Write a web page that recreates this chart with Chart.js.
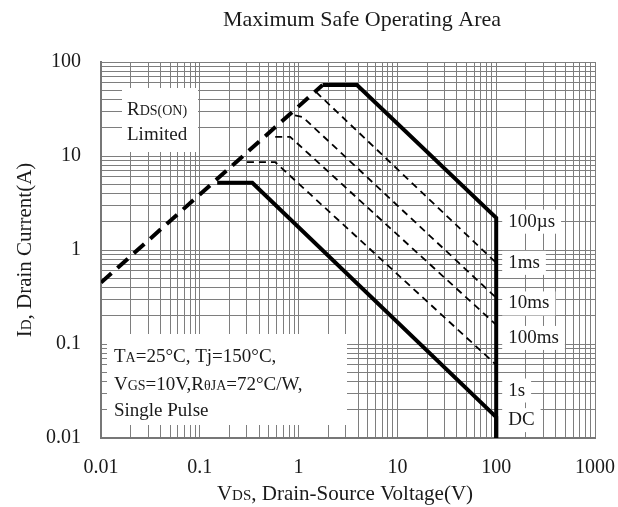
<!DOCTYPE html>
<html>
<head>
<meta charset="utf-8">
<script src="https://cdn.jsdelivr.net/npm/chart.js@4.4.1/dist/chart.umd.min.js"></script>
<style>
  html, body { margin: 0; padding: 0; background: #fff; }
  #wrap { width: 618px; height: 507px; }
</style>
</head>
<body>
<div id="wrap"><canvas id="soa" width="618" height="507"></canvas></div>
<script>
// ticks de los ejes (escala log)
const xTickValues = [0.01, 0.1, 1, 10, 100, 1000];
const xTickLabels = ["0.01", "0.1", "1", "10", "100", "1000"];
const yTickValues = [0.01, 0.1, 1, 10, 100];
const yTickLabels = ["0.01", "0.1", "1", "10", "100"];

// curvas (V, A)
const rdsX = [0.01, 1.75];
const rdsY = [0.45, 57];
const us100X = [1.75, 3.9, 100, 100];
const us100Y = [57, 57, 2.2, 0.01];
const ms1X = [1.5, 100];
const ms1Y = [48, 0.73];
const ms10X = [0.92, 1.1, 100];
const ms10Y = [27, 26, 0.31];
const ms100X = [0.58, 0.82, 100];
const ms100Y = [16, 16, 0.16];
const s1X = [0.30, 0.58, 100];
const s1Y = [8.6, 8.6, 0.06];
const dcX = [0.15, 0.34, 100, 100];
const dcY = [5.2, 5.2, 0.0167, 0.01];

// etiquetas a la derecha
const curveLabels = ["100µs", "1ms", "10ms", "100ms", "1s", "DC"];
const curveLabelY = [2.0, 0.73, 0.27, 0.116, 0.032, 0.0155];

const SERIF = "'Liberation Serif', 'DejaVu Serif', serif";
const pts = (xs, ys) => xs.map((x, i) => ({ x: x, y: ys[i] }));

function logGrid(vals) {
  const out = [];
  for (let i = 0; i < vals.length; i++) {
    out.push(vals[i]);
    if (i < vals.length - 1) {
      for (let m = 2; m <= 9; m++) out.push(+(vals[i] * m).toPrecision(3));
    }
  }
  return out;
}

function labelFor(v, values, labels) {
  const i = values.findIndex(t => Math.abs(Math.log10(t) - Math.log10(v)) < 1e-6);
  return i >= 0 ? labels[i] : "";
}

// texto con subindices: parts = [[texto, size], ...]
function richText(ctx, parts, x, y, align) {
  let w = 0;
  parts.forEach(p => { ctx.font = p[1] + "px " + SERIF; w += ctx.measureText(p[0]).width; });
  let cx = align === "center" ? x - w / 2 : x;
  ctx.textAlign = "left";
  ctx.textBaseline = "alphabetic";
  parts.forEach(p => {
    ctx.font = p[1] + "px " + SERIF;
    ctx.fillText(p[0], cx, y);
    cx += ctx.measureText(p[0]).width;
  });
  return w;
}

const textos = {
  id: "textos",
  beforeDatasetsDraw(chart) {
    const ctx = chart.ctx;
    const xs = chart.scales.x, ys = chart.scales.y;
    ctx.save();
    ctx.fillStyle = "#fff";
    // cajas blancas
    ctx.fillRect(122, 88, 76, 64);
    ctx.fillRect(107, 334, 240, 91);
    const lx = xs.getPixelForValue(100) + 12;
    ctx.font = "19px " + SERIF;
    curveLabels.forEach((t, i) => {
      const py = ys.getPixelForValue(curveLabelY[i]);
      const w = ctx.measureText(t).width;
      ctx.fillStyle = "#fff";
      ctx.fillRect(lx - 6, py - 12, w + 12, 24);
    });
    ctx.fillStyle = "#1a1a1a";
    curveLabels.forEach((t, i) => {
      const py = ys.getPixelForValue(curveLabelY[i]);
      ctx.font = "19px " + SERIF;
      ctx.textAlign = "left";
      ctx.textBaseline = "middle";
      ctx.fillText(t, lx, py);
    });
    richText(ctx, [["R", 19], ["DS(ON)", 14]], 127, 115, "left");
    richText(ctx, [["Limited", 19]], 127, 140, "left");
    richText(ctx, [["T", 19], ["A", 14], ["=25°C, Tj=150°C,", 19]], 114, 362, "left");
    richText(ctx, [["V", 19], ["GS", 14], ["=10V,R", 19], ["θJA", 14], ["=72°C/W,", 19]], 114, 390, "left");
    richText(ctx, [["Single Pulse", 19]], 114, 416, "left");
    ctx.restore();
  },
  afterDraw(chart) {
    const ctx = chart.ctx;
    ctx.save();
    ctx.fillStyle = "#1a1a1a";
    richText(ctx, [["Maximum Safe Operating Area", 22]], 362, 26, "center");
    richText(ctx, [["V", 21], ["DS", 15], [", Drain-Source Voltage(V)", 21]], 345, 500, "center");
    ctx.translate(31, 250);
    ctx.rotate(-Math.PI / 2);
    richText(ctx, [["I", 21], ["D", 15], [", Drain Current(A)", 21]], 0, 0, "center");
    ctx.restore();
  }
};

const thick = { borderColor: "#000", borderWidth: 4, pointRadius: 0, fill: false, tension: 0 };
const thin = { borderColor: "#000", borderWidth: 1.8, pointRadius: 0, fill: false, tension: 0, borderDash: [7, 5] };

new Chart(document.getElementById("soa"), {
  type: "line",
  data: {
    datasets: [
      Object.assign({ label: "RDS(ON) Limited", data: pts(rdsX, rdsY), borderDash: [14, 8] }, thick),
      Object.assign({ label: "100µs", data: pts(us100X, us100Y) }, thick),
      Object.assign({ label: "1ms", data: pts(ms1X, ms1Y) }, thin),
      Object.assign({ label: "10ms", data: pts(ms10X, ms10Y) }, thin),
      Object.assign({ label: "100ms", data: pts(ms100X, ms100Y) }, thin),
      Object.assign({ label: "1s", data: pts(s1X, s1Y) }, thin),
      Object.assign({ label: "DC", data: pts(dcX, dcY) }, thick)
    ]
  },
  options: {
    responsive: false,
    animation: false,
    layout: { padding: { top: 62, right: 23, left: 0, bottom: 0 } },
    plugins: { legend: { display: false }, tooltip: { enabled: false } },
    scales: {
      x: {
        type: "logarithmic",
        min: 0.01,
        max: 1000,
        afterFit: s => { s.height = 69; s.paddingLeft = 0; s.paddingRight = 0; },
        afterBuildTicks: s => { s.ticks = logGrid(xTickValues).map(v => ({ value: v })); },
        grid: { color: "#7e7e7e", lineWidth: 1, drawTicks: false },
        border: { color: "#777", width: 2 },
        ticks: {
          autoSkip: false,
          maxRotation: 0,
          padding: 18,
          color: "#1a1a1a",
          font: { family: SERIF, size: 20 },
          callback: v => labelFor(v, xTickValues, xTickLabels)
        }
      },
      y: {
        type: "logarithmic",
        min: 0.01,
        max: 100,
        afterFit: s => { s.width = 101; s.paddingTop = 0; s.paddingBottom = 0; },
        afterBuildTicks: s => { s.ticks = logGrid(yTickValues).map(v => ({ value: v })); },
        grid: { color: "#7e7e7e", lineWidth: 1, drawTicks: false },
        border: { color: "#777", width: 2 },
        ticks: {
          autoSkip: false,
          padding: 20,
          color: "#1a1a1a",
          font: { family: SERIF, size: 20 },
          callback: v => labelFor(v, yTickValues, yTickLabels)
        }
      }
    }
  },
  plugins: [textos]
});
</script>
</body>
</html>
